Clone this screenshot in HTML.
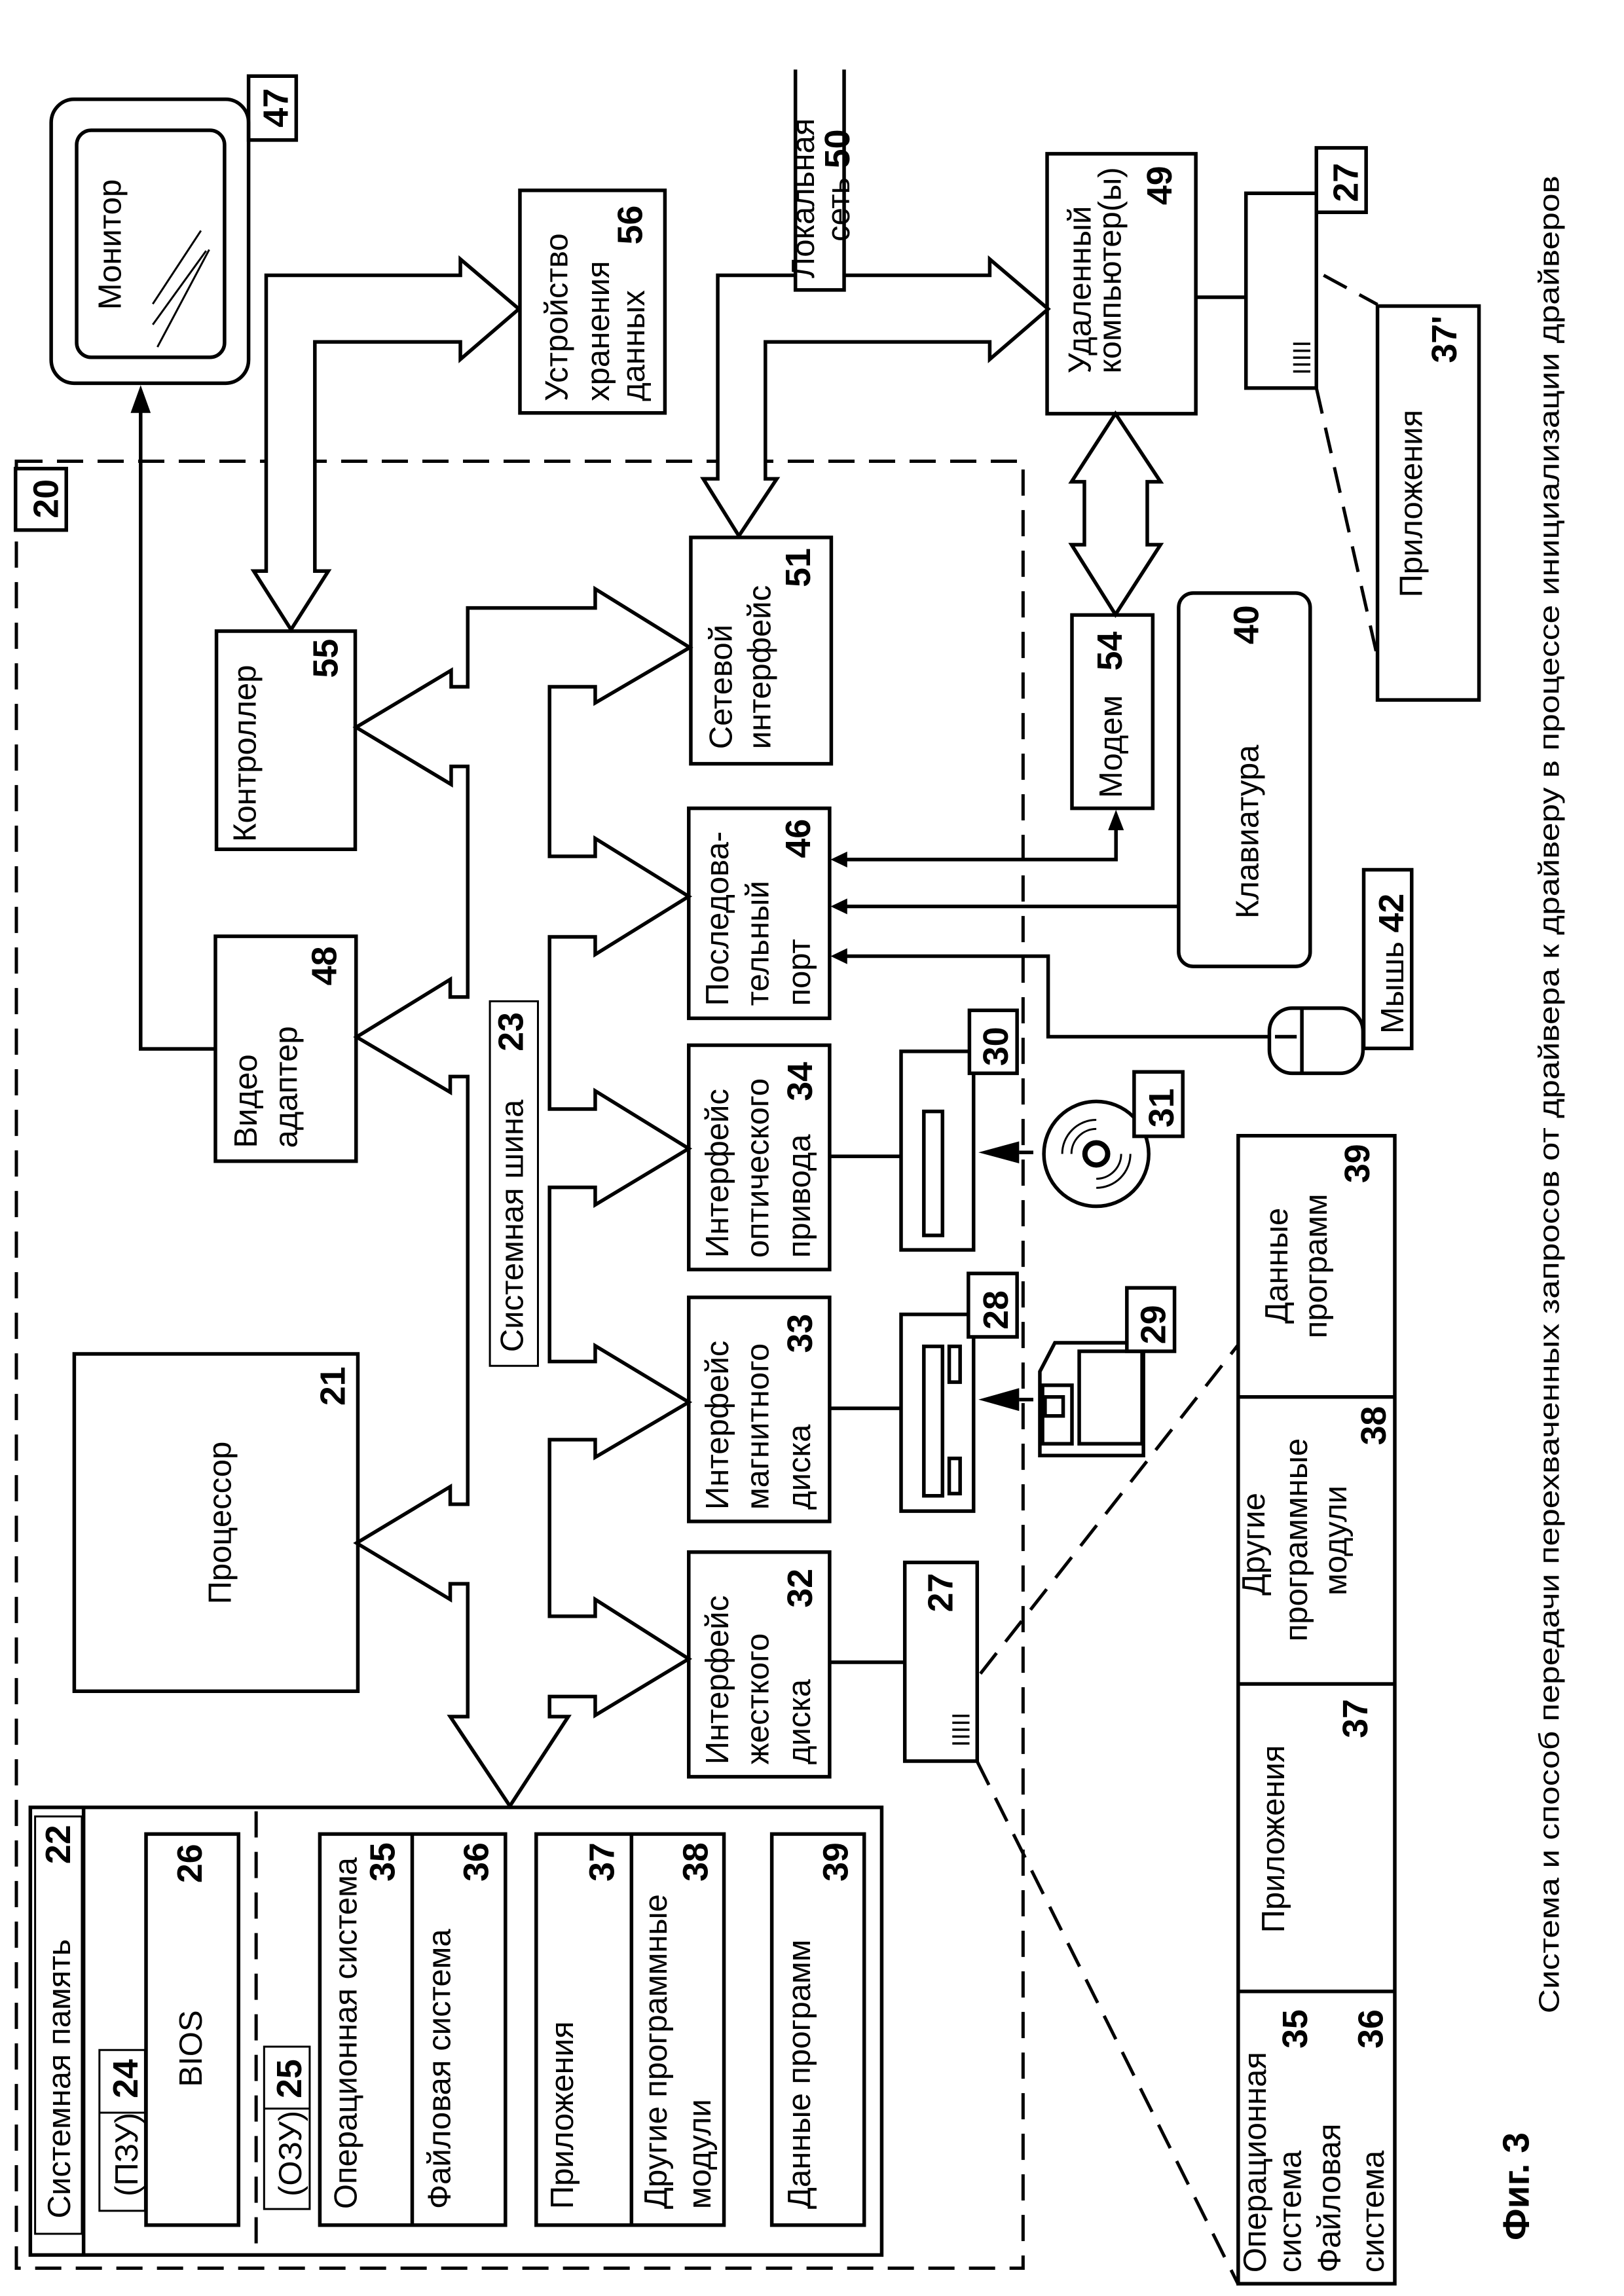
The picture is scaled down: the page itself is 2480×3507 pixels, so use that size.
<!DOCTYPE html>
<html><head><meta charset="utf-8">
<style>
html,body{margin:0;padding:0;background:#fff;}
svg{display:block;}
.s{fill:none;stroke:#000;stroke-width:5.5;vector-effect:non-scaling-stroke;}
.w{fill:#fff;stroke:#000;stroke-width:5.5;vector-effect:non-scaling-stroke;}
.th{fill:none;stroke:#000;stroke-width:3;vector-effect:non-scaling-stroke;}
.d{fill:none;stroke:#000;stroke-width:5;stroke-dasharray:40 22;vector-effect:non-scaling-stroke;}
.f{fill:#000;stroke:none;}
text{font-family:"Liberation Sans",Arial,sans-serif;font-size:31px;fill:#000;}
.b{font-weight:bold;font-size:34px;}
.m{text-anchor:middle;}
</style></head><body>
<svg width="2480" height="3507" viewBox="0 0 1568 1568" preserveAspectRatio="none" xmlns="http://www.w3.org/2000/svg">
<rect x="0" y="0" width="1568" height="1568" fill="#fff"/>

<rect class="d" x="15.8" y="315" width="972" height="1234"/>
<rect class="w" x="15" y="320" width="49" height="42"/>
<text class="b" transform="translate(56,354) scale(1,.7071) rotate(-90)">20</text>

<!-- Monitor -->
<rect class="s" x="49.4" y="67.8" width="190.6" height="193.9" rx="22" ry="16"/>
<rect class="s" x="74" y="89" width="142.8" height="155" rx="14" ry="10"/>
<line class="th" x1="147.5" y1="207.6" x2="194" y2="157.5"/>
<line class="th" x1="147.5" y1="221.7" x2="199" y2="171.3"/>
<line class="th" x1="152" y1="237" x2="202" y2="170.5"/>
<text class="m" transform="translate(116.6,167) scale(1,.7071) rotate(-90)">Монитор</text>
<rect class="s" x="240" y="52" width="46" height="43.6"/>
<text class="b" transform="translate(278,87) scale(1,.7071) rotate(-90)">47</text>

<polyline class="s" points="208,716.3 135.8,716.3 135.8,280"/>
<polygon class="f" points="135.8,263 145.5,282 126.1,282"/>

<!-- storage -->
<rect class="s" x="502" y="130" width="140" height="152"/>
<text transform="translate(548,274) scale(1,.7071) rotate(-90)">Устройство</text>
<text transform="translate(588,274) scale(1,.7071) rotate(-90)">хранения</text>
<text transform="translate(622,274) scale(1,.7071) rotate(-90)">данных</text>
<text class="b" transform="translate(620,167) scale(1,.7071) rotate(-90)">56</text>

<polygon class="w" points="257,390 257,188 444.5,188 444.5,177 501,211 444.5,245.4 444.5,233.5 304,233.5 304,390 317,390 281,430 245,390"/>

<polygon class="w" points="679,327 693,327 693,188 955.6,188 955.6,177 1012,211 955.6,245.4 955.6,233.5 739,233.5 739,327 750,327 713.4,366"/>
<rect x="768" y="47.5" width="47" height="150.5" fill="#fff"/>
<text transform="translate(786,190) scale(1,.7071) rotate(-90)">Локальная</text>
<text transform="translate(820,165) scale(1,.7071) rotate(-90)">сеть <tspan class="b">50</tspan></text>
<polyline class="s" points="768,47.5 768,198 815,198 815,47.5"/>

<!-- remote computer -->
<rect class="s" x="1011" y="105" width="143.6" height="177.5"/>
<text transform="translate(1053,255) scale(1,.7071) rotate(-90)">Удаленный</text>
<text transform="translate(1082,255) scale(1,.7071) rotate(-90)">компьютер(ы)</text>
<text class="b" transform="translate(1131,140) scale(1,.7071) rotate(-90)">49</text>
<line class="s" x1="1154.6" y1="203" x2="1203" y2="203"/>
<rect class="s" x="1203" y="132" width="68" height="133"/>
<text style="font-size:24px" transform="translate(1265,256) scale(1,.7071) rotate(-90)">IIIII</text>
<rect class="s" x="1271" y="101" width="48" height="44"/>
<text class="b" transform="translate(1311,138) scale(1,.7071) rotate(-90)">27</text>
<line class="d" x1="1278" y1="188" x2="1330" y2="208"/>
<line class="d" x1="1271" y1="265" x2="1330" y2="449"/>
<rect class="s" x="1330" y="209" width="98" height="269"/>
<text transform="translate(1373,408) scale(1,.7071) rotate(-90)">Приложения</text>
<text class="b" transform="translate(1406,248) scale(1,.7071) rotate(-90)">37'</text>

<polygon class="w" points="1077,282.5 1120.5,329 1107.7,329 1107.7,372 1120.5,372 1077,419.7 1034.6,372 1047,372 1047,329 1034.6,329"/>

<rect class="s" x="1035" y="420" width="78" height="132"/>
<text transform="translate(1083,545) scale(1,.7071) rotate(-90)">Модем</text>
<text class="b" transform="translate(1083,458) scale(1,.7071) rotate(-90)">54</text>

<rect class="s" x="1138" y="405" width="127" height="255" rx="14" ry="10"/>
<text class="m" transform="translate(1215,568) scale(1,.7071) rotate(-90)">Клавиатура</text>
<text class="b" transform="translate(1215,440) scale(1,.7071) rotate(-90)">40</text>

<rect class="s" x="1225.6" y="688.5" width="90.4" height="44.5" rx="22" ry="16"/>
<line class="s" x1="1257" y1="688.5" x2="1257" y2="733"/>
<line class="s" x1="1231" y1="708" x2="1252" y2="708"/>
<rect class="s" x="1316.7" y="594" width="46.3" height="122"/>
<text transform="translate(1355,706) scale(1,.7071) rotate(-90)">Мышь <tspan class="b">42</tspan></text>

<polyline class="s" points="816,587 1077.5,587 1077.5,566"/>
<polygon class="f" points="1077.5,553 1085.1,567 1069.9,567"/>
<line class="s" x1="816" y1="619" x2="1138" y2="619"/>
<polyline class="s" points="816,653 1012,653 1012,708 1225.6,708"/>
<polygon class="f" points="802,587 818,581.6 818,592.4"/>
<polygon class="f" points="802,619 818,613.6 818,624.4"/>
<polygon class="f" points="802,653 818,647.6 818,658.4"/>

<!-- interfaces -->
<rect class="s" x="667" y="367" width="135.6" height="154.6"/>
<text transform="translate(706.6,511.6) scale(1,.7071) rotate(-90)">Сетевой</text>
<text transform="translate(744,511.6) scale(1,.7071) rotate(-90)">интерфейс</text>
<text class="b" transform="translate(782,401) scale(1,.7071) rotate(-90)">51</text>

<rect class="s" x="665" y="552" width="136" height="143.4"/>
<text transform="translate(703,687) scale(1,.7071) rotate(-90)">Последова-</text>
<text transform="translate(742,687) scale(1,.7071) rotate(-90)">тельный</text>
<text transform="translate(782,687) scale(1,.7071) rotate(-90)">порт</text>
<text class="b" transform="translate(782,586) scale(1,.7071) rotate(-90)">46</text>

<rect class="s" x="665" y="713.8" width="136" height="153.2"/>
<text transform="translate(703,859) scale(1,.7071) rotate(-90)">Интерфейс</text>
<text transform="translate(742,859) scale(1,.7071) rotate(-90)">оптического</text>
<text transform="translate(782,859) scale(1,.7071) rotate(-90)">привода</text>
<text class="b" transform="translate(784,752) scale(1,.7071) rotate(-90)">34</text>

<rect class="s" x="665" y="886" width="136" height="153"/>
<text transform="translate(703,1031) scale(1,.7071) rotate(-90)">Интерфейс</text>
<text transform="translate(742,1031) scale(1,.7071) rotate(-90)">магнитного</text>
<text transform="translate(782,1031) scale(1,.7071) rotate(-90)">диска</text>
<text class="b" transform="translate(784,924) scale(1,.7071) rotate(-90)">33</text>

<rect class="s" x="665" y="1060" width="136" height="153.4"/>
<text transform="translate(703,1205) scale(1,.7071) rotate(-90)">Интерфейс</text>
<text transform="translate(742,1205) scale(1,.7071) rotate(-90)">жесткого</text>
<text transform="translate(782,1205) scale(1,.7071) rotate(-90)">диска</text>
<text class="b" transform="translate(784,1098) scale(1,.7071) rotate(-90)">32</text>

<!-- optical drive 30 -->
<line class="s" x1="801" y1="789.7" x2="870" y2="789.7"/>
<rect class="s" x="870" y="718" width="70" height="135.6"/>
<rect class="s" x="892" y="759" width="18" height="84.7"/>
<rect class="w" x="936" y="690" width="46" height="43"/>
<text class="b" transform="translate(973,728) scale(1,.7071) rotate(-90)">30</text>
<!-- CD 31 -->
<ellipse class="s" cx="1058.5" cy="788" rx="50.6" ry="35.8"/>
<ellipse class="s" cx="1058.5" cy="788" rx="11" ry="7.6" style="stroke-width:8"/>
<path class="th" d="M1025.6,788 A32.9,23.2 0 0 1 1058.5,764.8"/>
<path class="th" d="M1091.4,788 A32.9,23.2 0 0 1 1058.5,811.2"/>
<path class="th" d="M1034.5,788 A24,17 0 0 1 1058.5,771"/>
<path class="th" d="M1082.5,788 A24,17 0 0 1 1058.5,805"/>
<rect class="w" x="1095" y="732" width="47" height="44"/>
<text class="b" transform="translate(1133,770) scale(1,.7071) rotate(-90)">31</text>
<line class="s" x1="984" y1="787" x2="997.7" y2="787"/>
<polygon class="f" points="944.7,787 984,779.5 984,794.5"/>

<!-- floppy drive 28 -->
<line class="s" x1="801" y1="961.8" x2="870" y2="961.8"/>
<rect class="s" x="870" y="897.6" width="70" height="134.4"/>
<rect class="s" x="892" y="919.5" width="18" height="102"/>
<rect class="s" x="916.5" y="919.5" width="10.5" height="24.4"/>
<rect class="s" x="916.5" y="996" width="10.5" height="24"/>
<rect class="w" x="935" y="869.7" width="47" height="43.3"/>
<text class="b" transform="translate(973,908) scale(1,.7071) rotate(-90)">28</text>
<polygon class="s" points="1004,936.7 1018.5,917 1104,917 1104,994 1004,994"/>
<rect class="s" x="1042" y="922.8" width="60.7" height="63.2"/>
<rect class="s" x="1006.6" y="946" width="28.4" height="40"/>
<rect class="s" x="1009" y="954" width="17.5" height="13"/>
<rect class="w" x="1088" y="879.5" width="46" height="43.3"/>
<text class="b" transform="translate(1125,918) scale(1,.7071) rotate(-90)">29</text>
<line class="s" x1="984" y1="955.8" x2="997.7" y2="955.8"/>
<polygon class="f" points="944.7,955.8 984,948 984,963.6"/>

<!-- HDD 27 -->
<line class="s" x1="801" y1="1135.2" x2="873.6" y2="1135.2"/>
<rect class="s" x="873.6" y="1067" width="69.9" height="135.7"/>
<text class="b" transform="translate(919.5,1101) scale(1,.7071) rotate(-90)">27</text>
<text style="font-size:24px" transform="translate(936,1193) scale(1,.7071) rotate(-90)">IIIII</text>
<line class="d" x1="946.6" y1="1143" x2="1195.5" y2="918.4"/>
<line class="d" x1="943.5" y1="1203" x2="1195.5" y2="1560"/>

<!-- strip -->
<rect class="s" x="1195.5" y="775.6" width="151.2" height="784"/>
<line class="s" x1="1195.5" y1="954" x2="1346.7" y2="954"/>
<line class="s" x1="1195.5" y1="1150" x2="1346.7" y2="1150"/>
<line class="s" x1="1195.5" y1="1360" x2="1346.7" y2="1360"/>
<text transform="translate(1243,904) scale(1,.7071) rotate(-90)">Данные</text>
<text transform="translate(1281,914) scale(1,.7071) rotate(-90)">программ</text>
<text class="b" transform="translate(1322,808) scale(1,.7071) rotate(-90)">39</text>
<text transform="translate(1221,1089.6) scale(1,.7071) rotate(-90)">Другие</text>
<text transform="translate(1262,1121) scale(1,.7071) rotate(-90)">программные</text>
<text transform="translate(1300,1089.6) scale(1,.7071) rotate(-90)">модули</text>
<text class="b" transform="translate(1338,987) scale(1,.7071) rotate(-90)">38</text>
<text transform="translate(1240,1320) scale(1,.7071) rotate(-90)">Приложения</text>
<text class="b" transform="translate(1320,1187) scale(1,.7071) rotate(-90)">37</text>
<text transform="translate(1222,1552) scale(1,.7071) rotate(-90)">Операционная</text>
<text transform="translate(1256,1552) scale(1,.7071) rotate(-90)">система</text>
<text transform="translate(1294,1552) scale(1,.7071) rotate(-90)">Файловая</text>
<text transform="translate(1336,1552) scale(1,.7071) rotate(-90)">система</text>
<text class="b" transform="translate(1262,1399) scale(1,.7071) rotate(-90)">35</text>
<text class="b" transform="translate(1335,1399) scale(1,.7071) rotate(-90)">36</text>

<!-- processor / video / controller -->
<rect class="s" x="71.7" y="924.6" width="273.8" height="230.4"/>
<text class="m" transform="translate(223,1040) scale(1,.7071) rotate(-90)">Процессор</text>
<text class="b" transform="translate(333,960) scale(1,.7071) rotate(-90)">21</text>
<rect class="s" x="208" y="639.4" width="135.8" height="153.6"/>
<text transform="translate(248,784) scale(1,.7071) rotate(-90)">Видео</text>
<text transform="translate(286.8,784) scale(1,.7071) rotate(-90)">адаптер</text>
<text class="b" transform="translate(324.6,673) scale(1,.7071) rotate(-90)">48</text>
<rect class="s" x="209" y="431" width="134" height="149"/>
<text transform="translate(247,575) scale(1,.7071) rotate(-90)">Контроллер</text>
<text class="b" transform="translate(326,463) scale(1,.7071) rotate(-90)">55</text>

<!-- system bus -->
<polygon class="w" points="451.6,415.2 574.7,415.2 574.7,402.2 666,442.2 574.7,480 574.7,469 530.6,469 530.6,584.8 574.7,584.8 574.7,572.6 665,612.2 574.7,651.8 574.7,639.8 530.6,639.8 530.6,757.4 574.7,757.4 574.7,745 665,784.4 574.7,822.8 574.7,810.9 530.6,810.9 530.6,929.8 574.7,929.8 574.7,919.1 665,957.6 574.7,995.2 574.7,983.2 530.6,983.2 530.6,1103.8 574.7,1103.8 574.7,1092.3 665,1132.9 574.7,1171.4 574.7,1158.6 530.6,1158.6 530.6,1172.3 548.7,1172.3 492.3,1233.4 434.7,1172.3 451.6,1172.3 451.6,1081.6 434.7,1081.6 434.7,1092.3 344.3,1053.8 434.7,1015.3 434.7,1027.3 451.6,1027.3 451.6,735.2 434.7,735.2 434.7,745.9 344.3,708.2 434.7,668.9 434.7,680.9 451.6,680.9 451.6,523.4 435.6,523.4 435.6,535.7 343.8,496.7 435.6,457.8 435.6,469 451.6,469"/>
<rect class="th" x="473" y="683.8" width="46.4" height="249"/>
<text transform="translate(505,923.4) scale(1,.7071) rotate(-90)">Системная шина</text>
<text class="b" transform="translate(505,718) scale(1,.7071) rotate(-90)">23</text>

<!-- system memory -->
<rect class="s" x="29.3" y="1234.3" width="822" height="305.7"/>
<line class="s" x1="80.7" y1="1234.3" x2="80.7" y2="1540"/>
<line class="d" x1="247.3" y1="1237" x2="247.3" y2="1540"/>
<rect class="th" x="33.9" y="1240.5" width="45.1" height="285"/>
<text transform="translate(67.7,1515) scale(1,.7071) rotate(-90)">Системная память</text>
<text class="b" transform="translate(67.7,1273) scale(1,.7071) rotate(-90)">22</text>
<rect class="th" x="96" y="1400" width="44" height="109.8"/>
<line class="th" x1="96" y1="1442.8" x2="140" y2="1442.8"/>
<text transform="translate(132.7,1500) scale(1,.7071) rotate(-90)">(ПЗУ)</text>
<text class="b" transform="translate(132.7,1433) scale(1,.7071) rotate(-90)">24</text>
<rect class="s" x="141" y="1252.5" width="89.3" height="267.1"/>
<text class="m" transform="translate(194.8,1399) scale(1,.7071) rotate(-90)">BIOS</text>
<text class="b" transform="translate(194.8,1286) scale(1,.7071) rotate(-90)">26</text>
<rect class="th" x="255" y="1397.7" width="44" height="110.9"/>
<line class="th" x1="255" y1="1440" x2="299" y2="1440"/>
<text transform="translate(290.7,1500) scale(1,.7071) rotate(-90)">(ОЗУ)</text>
<text class="b" transform="translate(290.7,1433) scale(1,.7071) rotate(-90)">25</text>

<rect class="s" x="308.8" y="1252.5" width="179.2" height="267.1"/>
<line class="s" x1="398" y1="1252.5" x2="398" y2="1519.6"/>
<text transform="translate(344.4,1508.6) scale(1,.7071) rotate(-90)">Операционная система</text>
<text class="b" transform="translate(381,1285) scale(1,.7071) rotate(-90)">35</text>
<text transform="translate(434.7,1508.6) scale(1,.7071) rotate(-90)">Файловая система</text>
<text class="b" transform="translate(471.4,1285) scale(1,.7071) rotate(-90)">36</text>

<rect class="s" x="517.7" y="1252.5" width="181.3" height="267.1"/>
<line class="s" x1="609.7" y1="1252.5" x2="609.7" y2="1519.6"/>
<text transform="translate(553.3,1508.6) scale(1,.7071) rotate(-90)">Приложения</text>
<text class="b" transform="translate(592.8,1285) scale(1,.7071) rotate(-90)">37</text>
<text transform="translate(643.6,1508.6) scale(1,.7071) rotate(-90)">Другие программные</text>
<text transform="translate(686,1508.6) scale(1,.7071) rotate(-90)">модули</text>
<text class="b" transform="translate(683,1285) scale(1,.7071) rotate(-90)">38</text>

<rect class="s" x="745.2" y="1252.5" width="89.2" height="267.1"/>
<text transform="translate(782,1508.6) scale(1,.7071) rotate(-90)">Данные программ</text>
<text class="b" transform="translate(818.6,1285) scale(1,.7071) rotate(-90)">39</text>

<!-- caption -->
<text style="font-size:27.8px" textLength="1775" lengthAdjust="spacingAndGlyphs" transform="translate(1505,1375) scale(1,.7071) rotate(-90)">Система и способ передачи перехваченных запросов от драйвера к драйверу в процессе инициализации драйверов</text>
<text class="b" style="font-size:36px" transform="translate(1476,1530) scale(1,.7071) rotate(-90)">Фиг. 3</text>
</svg>
</body></html>
